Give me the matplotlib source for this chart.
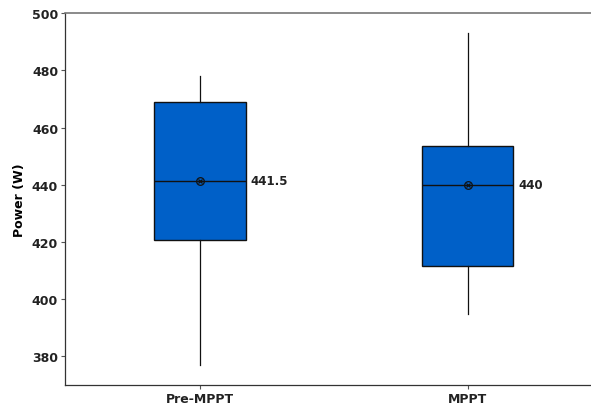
import matplotlib.pyplot as plt

# ---------------------------
# Data
# ---------------------------
groups = ["Pre-MPPT", "MPPT"]
whisker_low = [377, 395]
q1 = [420.7, 411.8]
median = [441.5, 440]
q3 = [468.8, 453.6]
whisker_high = [478.2, 493]
mean = [441.5, 440]

# ---------------------------
# Plot
# ---------------------------
plt.rcParams["font.family"] = "DejaVu Sans"

fig = plt.figure(figsize=(5.91, 4.06), dpi=100)
ax = fig.add_axes([0.110, 0.049, 0.89, 0.916])

stats = []
for i, name in enumerate(groups):
    stats.append({
        "label": name,
        "whislo": whisker_low[i],
        "q1": q1[i],
        "med": median[i],
        "q3": q3[i],
        "whishi": whisker_high[i],
        "mean": mean[i],
        "fliers": [],
    })

positions = [1, 2]
ax.bxp(stats, positions=positions, widths=0.34, patch_artist=True,
       showmeans=False, showcaps=False,
       boxprops=dict(facecolor="#0060C8", edgecolor="#111111", linewidth=1.0),
       medianprops=dict(color="#111111", linewidth=1.0),
       whiskerprops=dict(color="#111111", linewidth=0.9))

# mean symbol (circle with cross)
for p, m in zip(positions, mean):
    ax.plot(p, m, marker="o", markersize=5.5, markerfacecolor="none",
            markeredgecolor="#111111", markeredgewidth=0.9)
    ax.plot(p, m, marker="x", markersize=3.5, color="#111111",
            markeredgewidth=0.9)

# median labels
for p, m in zip(positions, median):
    label = f"{m:g}"
    ax.text(p + 0.19, m, label, va="center", ha="left",
            fontsize=8.5, fontweight="bold", color="#222222")

ax.set_xlim(0.496, 2.46)
ax.set_ylim(370, 500)
ax.set_yticks([380, 400, 420, 440, 460, 480, 500])
ax.set_xticks(positions)
ax.set_xticklabels(groups)
ax.set_ylabel("Power (W)", fontsize=9, fontweight="bold")

for lbl in ax.get_xticklabels() + ax.get_yticklabels():
    lbl.set_fontweight("bold")
    lbl.set_fontsize(9)
    lbl.set_color("#222222")

ax.tick_params(length=3, width=0.8, color="#555555", pad=2)
ax.spines["right"].set_visible(False)
ax.spines["top"].set_color("#777777")
ax.spines["top"].set_linewidth(1.2)
for s in ["left", "bottom"]:
    ax.spines[s].set_color("#333333")
    ax.spines[s].set_linewidth(0.9)

fig.savefig("out.png", dpi=100)
